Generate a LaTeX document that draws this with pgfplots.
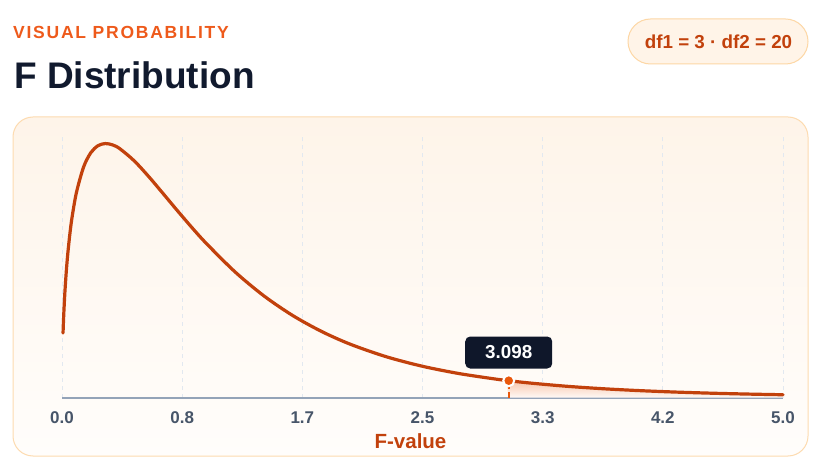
\documentclass[border=0pt]{standalone}
\usepackage{pgfplots}
\pgfplotsset{compat=1.18}
\usepackage{fontspec}
\setmainfont{Liberation Sans}
\newfontfamily\trackfont[LetterSpace=10]{Liberation Sans}

\definecolor{kicker}{HTML}{EE5A1B}
\definecolor{titlecol}{HTML}{111A2E}
\definecolor{curvecol}{HTML}{C2410C}
\definecolor{markcol}{HTML}{EA580C}
\definecolor{pillfill}{HTML}{FFF4E8}
\definecolor{pillborder}{HTML}{FDD7A5}
\definecolor{paneltop}{HTML}{FEF4E9}
\definecolor{panelbot}{HTML}{FFFDFB}
\definecolor{panelborder}{HTML}{FDDBB0}
\definecolor{gridcol}{HTML}{E2E8F0}
\definecolor{axiscol}{HTML}{94A3B8}
\definecolor{tickcol}{HTML}{475569}
\definecolor{tipcol}{HTML}{0F172A}

\begin{document}
\begin{tikzpicture}[x=1bp,y=1bp]
\fill[white] (0,0) rectangle (836,-472);

% header
\node[anchor=base west, inner sep=0, text=kicker] at (13,-39)
  {\trackfont\fontsize{17.5bp}{20bp}\selectfont\bfseries VISUAL PROBABILITY};
\node[anchor=base west, inner sep=0, text=titlecol,
  font=\fontsize{37bp}{40bp}\selectfont\bfseries] at (14,-89) {F Distribution};

% parameter pill
\draw[draw=pillborder, fill=pillfill, line width=1bp, rounded corners=22.5bp]
  (628,-19) rectangle (808,-64);
\node[anchor=base, inner sep=0, text=curvecol,
  font=\fontsize{18.8bp}{20bp}\selectfont\bfseries] at (718.5,-49) {df1 = 3 · df2 = 20};

% panel
\shade[top color=paneltop, bottom color=panelbot, rounded corners=20bp]
  (13,-117) rectangle (808,-456);
\draw[panelborder, line width=1bp, rounded corners=20bp]
  (13,-117) rectangle (808,-456);

\begin{axis}[
  at={(62bp,-397.5bp)}, anchor=south west,
  scale only axis,
  width=721bp, height=262.5bp,
  xmin=0, xmax=5, ymin=0, ymax=0.7336,
  axis x line=bottom, axis y line=none,
  x axis line style={-, draw=axiscol, line width=2bp},
  xtick={0,0.83333,1.66667,2.5,3.33333,4.16667,5},
  xticklabels={0.0,0.8,1.7,2.5,3.3,4.2,5.0},
  major tick length=0pt,
  xmajorgrids,
  grid style={draw=gridcol, line width=1bp, dash pattern=on 4bp off 4bp},
  x tick label style={font=\fontsize{17bp}{19bp}\selectfont\bfseries,
    text=tickcol, anchor=base, yshift=-25.5bp},
  clip=false,
]
% shaded tail beyond the critical value
\addplot[draw=none, top color=markcol!38!white, bottom color=markcol!4!white, smooth]
  coordinates {(3.098,0) (3.098,0.046965) (3.25,0.040276) (3.5,0.031388)
  (3.75,0.024572) (4.0,0.019321) (4.25,0.015258) (4.5,0.012100)
  (4.75,0.009637) (5.0,0.007707) (5.0,0)} -- cycle;

% density curve
\addplot[draw=curvecol, line width=3.2bp, line cap=round, line join=round, smooth, tension=0.5]
  coordinates {
  (0.0072,0.1802) (0.012,0.23066) (0.02,0.29370) (0.03,0.35358)
  (0.04,0.40134) (0.055,0.45867) (0.07,0.50436) (0.1,0.57279)
  (0.15,0.64457) (0.2,0.68429) (0.25,0.70383) (0.3,0.70971)
  (0.35,0.70604) (0.4,0.69561) (0.5,0.66167) (0.6,0.61806)
  (0.7,0.57048) (0.8,0.52227) (0.9,0.47536) (1.0,0.43093)
  (1.2,0.35100) (1.4,0.28405) (1.6,0.22912) (1.8,0.18461)
  (2.0,0.14877) (2.25,0.11378) (2.5,0.087268) (2.75,0.067170)
  (3.0,0.051902) (3.098,0.046965) (3.25,0.040276) (3.5,0.031388)
  (3.75,0.024572) (4.0,0.019321) (4.25,0.015258) (4.5,0.012100)
  (4.75,0.009637) (5.0,0.007707)
  };

% critical value drop line and marker
\addplot[draw=markcol, line width=2bp, dash pattern=on 6bp off 3bp]
  coordinates {(3.098,0) (3.098,0.046965)};
\addplot[only marks, mark=*, mark size=5.5bp,
  mark options={fill=markcol, draw=white, line width=2bp}]
  coordinates {(3.098,0.046965)};
\node[fill=tipcol, rounded corners=5bp, text=white, inner sep=0,
  minimum width=87bp, minimum height=32bp, anchor=south, yshift=12bp,
  font=\fontsize{18.8bp}{20bp}\selectfont\bfseries]
  at (axis cs:3.098,0.046965) {3.098};
\end{axis}

\node[anchor=base, inner sep=0, text=curvecol,
  font=\fontsize{20.5bp}{22bp}\selectfont\bfseries] at (410.5,-448) {F-value};
\end{tikzpicture}
\end{document}
